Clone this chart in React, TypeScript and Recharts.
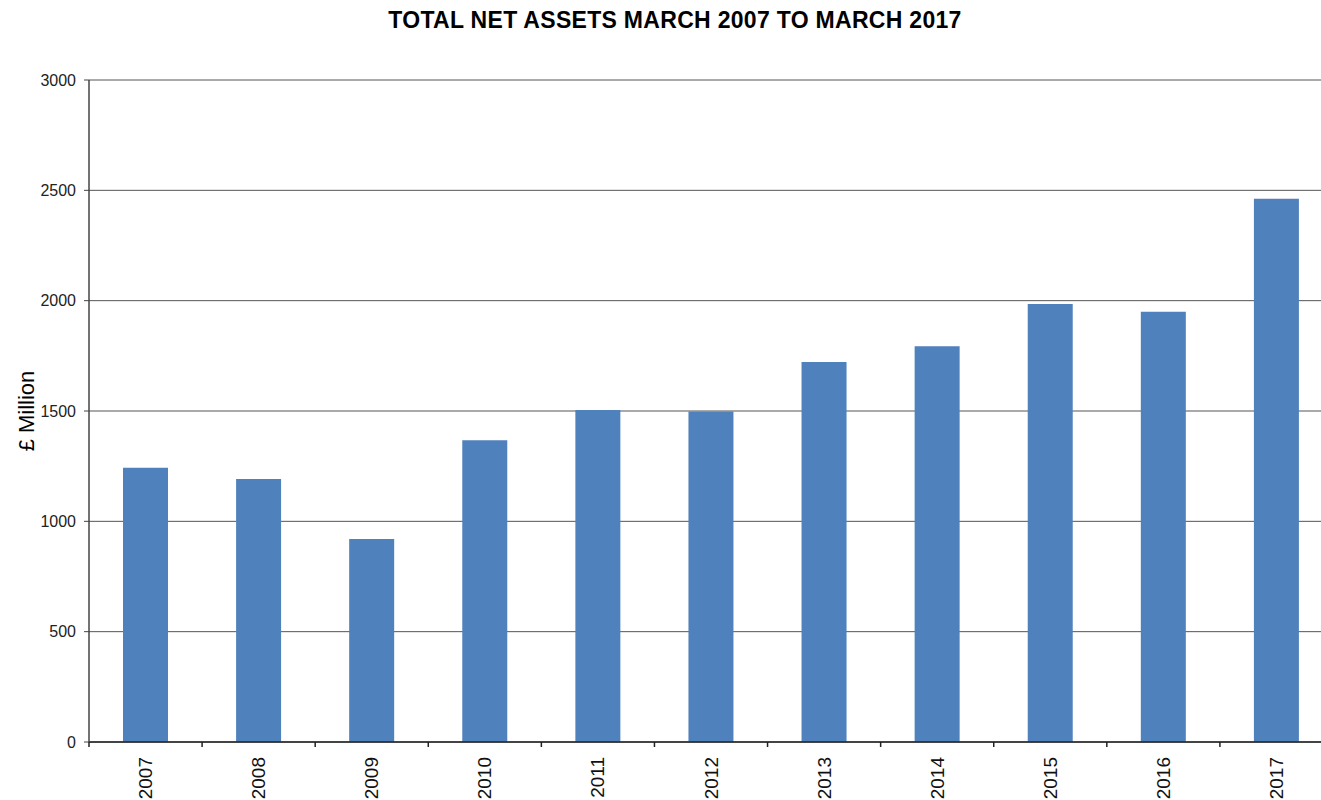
import React from 'react';
import { BarChart, Bar, XAxis, YAxis, CartesianGrid } from 'recharts';

const years = ['2007', '2008', '2009', '2010', '2011', '2012', '2013', '2014', '2015', '2016', '2017'];
const netAssets = [1243, 1192, 920, 1367, 1504, 1498, 1722, 1793, 1985, 1950, 2462];
const yTicks = [0, 500, 1000, 1500, 2000, 2500, 3000];

const data = years.map((y, i) => ({ year: y, value: netAssets[i] }));

const FONT = '"Liberation Sans", Arial, sans-serif';
const CHART_W = 1333;
const Y_AXIS_W = 89;
const STEP = (CHART_W - Y_AXIS_W) / years.length;

const XTick = (props: any) => {
  const { x, y, payload } = props;
  const bx = x - STEP / 2;
  const axisY = y - 15;
  return (
    <g>
      <line x1={bx} y1={axisY} x2={bx} y2={axisY + 5} stroke="#222" strokeWidth={1.5} />
      <text
        x={x}
        y={y}
        transform={`rotate(-90, ${x}, ${y})`}
        textAnchor="end"
        dominantBaseline="central"
        fontSize={19}
        fontFamily={FONT}
        fill="#111"
      >
        {payload.value}
      </text>
    </g>
  );
};

export default function App() {
  return (
    <div style={{ position: 'absolute', left: 0, top: 0, width: 1321, height: 800, background: '#fff', overflow: 'hidden' }}>
      <div
        style={{
          position: 'absolute',
          left: 0,
          width: 1350,
          top: 7,
          textAlign: 'center',
          fontFamily: FONT,
          fontWeight: 'bold',
          fontSize: 23,
          letterSpacing: 0.3,
          color: '#000',
        }}
      >
        TOTAL NET ASSETS MARCH 2007 TO MARCH 2017
      </div>
      <div
        style={{
          position: 'absolute',
          left: 27,
          top: 411,
          transform: 'translate(-50%, -50%) rotate(-90deg)',
          fontFamily: FONT,
          fontSize: 22,
          color: '#000',
          whiteSpace: 'nowrap',
        }}
      >
        £ Million
      </div>
      <div style={{ position: 'absolute', left: 0, top: 0 }}>
        <BarChart
          width={CHART_W}
          height={800}
          data={data}
          margin={{ top: 80, right: 0, left: 0, bottom: 0 }}
        >
          <CartesianGrid vertical={false} stroke="#555" strokeWidth={1} />
          <XAxis
            dataKey="year"
            height={58}
            interval={0}
            tick={<XTick />}
            tickSize={5}
            tickMargin={10}
            tickLine={false}
            axisLine={{ stroke: '#222', strokeWidth: 1.5 }}
            scale="band"
          />
          <YAxis
            width={Y_AXIS_W}
            domain={[0, 3000]}
            ticks={yTicks}
            interval={0}
            tickSize={5}
            tickMargin={8}
            axisLine={{ stroke: '#444', strokeWidth: 1.5 }}
            tickLine={{ stroke: '#444' }}
            tick={{ fontSize: 16, fontFamily: FONT, fill: '#222' }}
          />
          <Bar dataKey="value" fill="#4F81BD" barSize={45} isAnimationActive={false} />
        </BarChart>
      </div>
    </div>
  );
}
